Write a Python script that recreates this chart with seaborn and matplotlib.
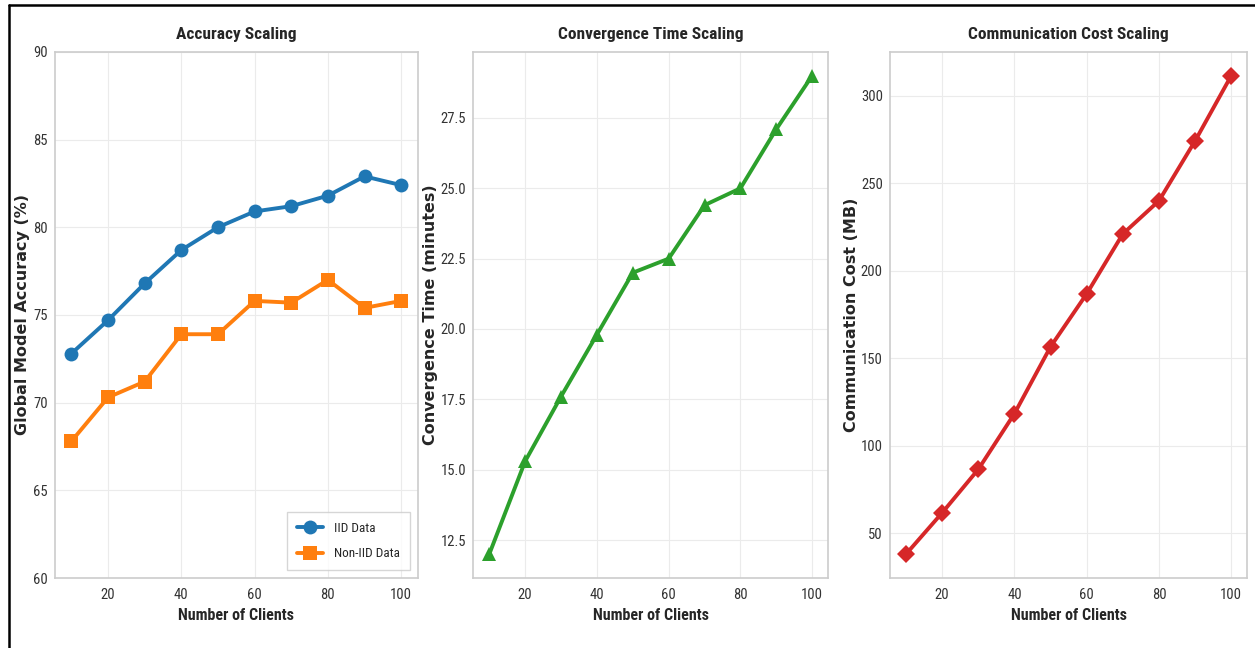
import matplotlib
matplotlib.use("Agg")
import matplotlib.pyplot as plt
from matplotlib import font_manager
from matplotlib.lines import Line2D
import pandas as pd
import seaborn as sns

# Scaling experiment results
clients = [10, 20, 30, 40, 50, 60, 70, 80, 90, 100]
acc_iid = [72.8, 74.7, 76.8, 78.7, 80.0, 80.9, 81.2, 81.8, 82.9, 82.4]
acc_non_iid = [67.8, 70.3, 71.2, 73.9, 73.9, 75.8, 75.7, 77.0, 75.4, 75.8]
conv_time = [12.0, 15.3, 17.6, 19.8, 22.0, 22.5, 24.4, 25.0, 27.1, 29.0]
comm_cost = [38.2, 61.8, 86.6, 118.4, 156.6, 186.8, 221.0, 239.9, 274.1, 311.3]

sns.set_style("whitegrid")
available = {f.name for f in font_manager.fontManager.ttflist}
narrow = next((n for n in ("Roboto Condensed", "Liberation Sans Narrow", "Archivo Narrow",
                           "PT Sans Narrow", "IBM Plex Sans Condensed", "Asap Condensed",
                           "Liberation Sans") if n in available), "DejaVu Sans")
plt.rcParams["font.family"] = [narrow, "DejaVu Sans"]
plt.rcParams["axes.edgecolor"] = "#cccccc"
plt.rcParams["grid.color"] = "#ebebeb"

fig = plt.figure(figsize=(12.55, 6.48), dpi=100)
ax1 = fig.add_axes([0.0438, 0.108, 0.289, 0.812])
ax2 = fig.add_axes([0.377, 0.108, 0.283, 0.812])
ax3 = fig.add_axes([0.709, 0.108, 0.285, 0.812])

acc_df = pd.DataFrame({
    "clients": clients * 2,
    "accuracy": acc_iid + acc_non_iid,
    "setting": ["IID Data"] * len(clients) + ["Non-IID Data"] * len(clients),
})
sns.lineplot(data=acc_df, x="clients", y="accuracy", hue="setting", style="setting",
             markers={"IID Data": "o", "Non-IID Data": "s"}, dashes=False,
             palette={"IID Data": "#1f77b4", "Non-IID Data": "#ff7f0e"},
             linewidth=2.8, markersize=10, markeredgewidth=0, ax=ax1)
ax1.set_ylim(60, 90)
ax1.set_title("Accuracy Scaling")
ax1.set_ylabel("Global Model Accuracy (%)")
leg = ax1.legend(loc="lower right", fontsize=9.5, frameon=True, fancybox=False,
                 handlelength=2.0, borderpad=0.75, labelspacing=0.95,
                 borderaxespad=0.6)
leg.get_frame().set_edgecolor("#cccccc")
leg.get_frame().set_linewidth(1.0)

sns.lineplot(x=clients, y=conv_time, color="#2ca02c", marker="^", linewidth=2.8,
             markersize=10.5, markeredgewidth=0, ax=ax2)
ax2.set_title("Convergence Time Scaling")
ax2.set_ylabel("Convergence Time (minutes)")

sns.lineplot(x=clients, y=comm_cost, color="#d62728", marker="D", linewidth=2.8,
             markersize=9.5, markeredgewidth=0, ax=ax3)
ax3.set_title("Communication Cost Scaling")
ax3.set_ylabel("Communication Cost (MB)")

label_x = {ax1: -0.068, ax2: -0.098, ax3: -0.086}
for ax in (ax1, ax2, ax3):
    ax.set_title(ax.get_title(), fontsize=12.5, fontweight="bold", pad=9)
    ax.set_xlabel("Number of Clients", fontsize=11.5, fontweight="bold")
    ax.yaxis.label.set_family("DejaVu Sans")
    ax.yaxis.label.set_fontsize(11.5)
    ax.yaxis.label.set_fontweight("bold")
    ax.yaxis.set_label_coords(label_x[ax], 0.5)
    ax.set_xticks([20, 40, 60, 80, 100])
    ax.tick_params(axis="both", labelsize=10.5, colors="#333333")
    ax.tick_params(axis="y", pad=1.5)
    ax.tick_params(axis="x", pad=4)
    for s in ax.spines.values():
        s.set_color("#cccccc")
        s.set_linewidth(1.2)

# frame lines along the top and left edges
fig.add_artist(Line2D([0.0072, 1.0], [0.9925, 0.9925], color="black", linewidth=1.8,
                      transform=fig.transFigure))
fig.add_artist(Line2D([0.0072, 0.0072], [0.0, 0.9925], color="black", linewidth=1.8,
                      transform=fig.transFigure))

fig.savefig("out.png", dpi=100)
